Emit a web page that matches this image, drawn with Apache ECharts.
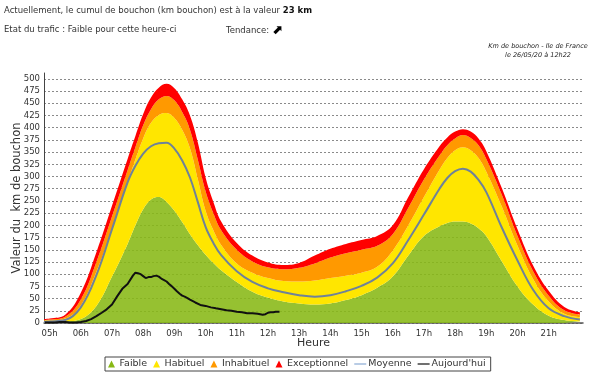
<!DOCTYPE html>
<html><head><meta charset="utf-8">
<script src="https://cdn.jsdelivr.net/npm/echarts@6/dist/echarts.min.js"></script>
<style>html,body{margin:0;padding:0;background:#fff}#c{width:600px;height:377px}</style>
</head><body><div id="c"></div>
<script>
// hours of the day (decimal)
var hours = [4.82, 5, 5.5, 6, 6.5, 7, 7.5, 7.75, 8, 8.25, 8.5, 8.75, 9, 9.25, 9.5, 9.75, 10, 10.25, 10.5, 11, 11.5, 12, 12.5, 13, 13.5, 14, 14.5, 15, 15.5, 16, 16.5, 17, 17.5, 17.75, 18, 18.25, 18.5, 18.75, 19, 19.5, 20, 20.5, 21, 21.5, 22];
// upper limit of each zone (km)
var faible       = [1, 2, 3, 8, 35, 95, 162, 200, 233, 253, 258, 248, 230, 207, 182, 160, 140, 123, 108, 84, 64, 52, 44, 40, 38, 40, 47, 57, 72, 95, 138, 178, 198, 205, 208, 208, 204, 194, 178, 126, 75, 38, 15, 6, 3];
var habituel     = [5, 5, 9, 36, 105, 192, 288, 335, 378, 410, 426, 430, 420, 396, 358, 295, 230, 190, 160, 122, 103, 92, 86, 85, 87, 92, 97, 103, 115, 148, 200, 258, 314, 338, 354, 360, 354, 338, 310, 238, 158, 90, 44, 19, 12];
var inhabituel   = [6, 7, 13, 48, 125, 218, 313, 360, 405, 438, 458, 465, 456, 432, 396, 335, 270, 225, 190, 150, 126, 114, 110, 113, 122, 134, 143, 150, 158, 182, 236, 294, 343, 364, 378, 385, 379, 364, 336, 262, 178, 106, 56, 26, 17];
var exceptionnel = [8, 9, 17, 62, 145, 240, 336, 383, 428, 462, 482, 490, 481, 458, 425, 370, 298, 248, 208, 164, 138, 124, 119, 123, 138, 152, 162, 170, 178, 200, 258, 315, 362, 380, 392, 397, 392, 378, 352, 276, 192, 118, 66, 33, 22];
var moyenne      = [2, 3, 6, 32, 98, 192, 288, 322, 347, 362, 368, 369, 357, 333, 298, 248, 197, 164, 139, 106, 84, 71, 63, 57, 54, 57, 65, 76, 93, 122, 170, 222, 275, 297, 311, 316, 310, 293, 268, 195, 128, 68, 30, 14, 7];
// today's measurements
var todayHours  = [4.85, 5.0, 5.17, 5.33, 5.5, 5.67, 5.83, 6.0, 6.17, 6.33, 6.5, 6.67, 6.83, 7.0, 7.17, 7.33, 7.5, 7.67, 7.75, 7.83, 7.92, 8.0, 8.08, 8.17, 8.25, 8.33, 8.42, 8.5, 8.58, 8.67, 8.75, 8.83, 8.92, 9.0, 9.08, 9.17, 9.25, 9.33, 9.42, 9.5, 9.67, 9.83, 10.0, 10.17, 10.33, 10.5, 10.67, 10.83, 11.0, 11.17, 11.33, 11.5, 11.67, 11.83, 11.92, 12.0, 12.08, 12.17, 12.25, 12.37];
var todayValues = [1, 1, 1, 2, 2, 1, 1, 2, 4, 8, 14, 21, 28, 38, 55, 70, 80, 97, 103, 102, 100, 96, 92, 94, 94, 96, 97, 95, 91, 88, 85, 80, 75, 70, 65, 60, 56, 54, 51, 48, 42, 37, 35, 32, 30, 28, 26, 25, 23, 22, 20, 20, 19, 17, 18, 21, 22, 22, 23, 23];
var hourTicks = [5, 6, 7, 8, 9, 10, 11, 12, 13, 14, 15, 16, 17, 18, 19, 20, 21];
var yMax = 512;

var FONT = 'DejaVu Sans';
function pairs(xs, ys) { return xs.map(function (x, i) { return [x, ys[i]]; }); }
// [value, hour] so that stacking applies to the value dimension
function bandData(upper, lower) {
  return hours.map(function (h, i) { return [Math.max(0, upper[i] - (lower ? lower[i] : 0)), h]; });
}

var tri = 'path://M5,0L10,10L0,10Z';
var bar = 'path://M0,0L24,0L24,2.4L0,2.4Z';
function band(name, upper, lower, color, opacity) {
  return { name: name, type: 'line', stack: 'zones', smooth: 0.4, symbol: 'none',
    encode: { x: 1, y: 0 }, data: bandData(upper, lower),
    color: color, lineStyle: { width: 0 }, areaStyle: { color: color, opacity: opacity } };
}
var chart = echarts.init(document.getElementById('c'));
chart.setOption({
  animation: false,
  title: [
    { text: '{n|Actuellement, le cumul de bouchon (km bouchon) est à la valeur }{b|23 km}', left: 4, top: 6, padding: 0,
      textStyle: { rich: { n: { fontFamily: FONT, fontSize: 8.5, fontWeight: 'normal', color: '#333' }, b: { fontFamily: FONT, fontSize: 8.5, fontWeight: 'bold', color: '#111' } } } },
    { text: 'Etat du trafic : Faible pour cette heure-ci', left: 4, top: 25, padding: 0, textStyle: { fontFamily: FONT, fontSize: 8.5, fontWeight: 'normal', color: '#333' } },
    { text: 'Tendance: {a|⬈}', left: 226, top: 24, padding: 0, textStyle: { fontFamily: FONT, fontSize: 8.5, fontWeight: 'normal', color: '#333', rich: { a: { fontSize: 13, fontWeight: 'bold', color: '#000', verticalAlign: 'middle' } } } },
    { text: 'Km de bouchon - Ile de France\nle 26/05/20 à 12h22', left: 538, top: 42, padding: 0, textAlign: 'center',
      textStyle: { fontFamily: FONT, fontSize: 6.5, fontStyle: 'italic', fontWeight: 'normal', color: '#222', lineHeight: 9, align: 'center' } }
  ],
  legend: {
    left: 105, top: 357, padding: [2, 5, 2, 3], itemGap: 6, itemWidth: 12, itemHeight: 7,
    borderColor: '#444', borderWidth: 1,
    textStyle: { fontFamily: FONT, fontSize: 9.5, color: '#333', padding: [0, 0, 0, -3] },
    data: [
      { name: 'Faible', icon: tri },
      { name: 'Habituel', icon: tri },
      { name: 'Inhabituel', icon: tri },
      { name: 'Exceptionnel', icon: tri },
      { name: 'Moyenne', icon: bar, itemStyle: { color: '#8aaad4' } },
      { name: "Aujourd'hui", icon: bar }
    ]
  },
  grid: { left: 44, right: 17, top: 73, bottom: 54, outerBoundsMode: 'none' },
  xAxis: {
    type: 'value', min: 4.82, max: 22.1,
    name: 'Heure', nameLocation: 'middle', nameGap: 15, nameMoveOverlap: false,
    nameTextStyle: { fontFamily: FONT, fontSize: 11, color: '#333' },
    axisLine: { show: true, lineStyle: { color: '#555', width: 1.5 } },
    axisTick: { show: false },
    splitLine: { show: false },
    axisLabel: { customValues: hourTicks, fontFamily: FONT, fontSize: 8.5, color: '#333', margin: 6,
      formatter: function (v) { return (v < 10 ? '0' : '') + v + 'h'; } }
  },
  yAxis: {
    type: 'value', min: 0, max: yMax, interval: 25,
    name: 'Valeur du  km de bouchon', nameLocation: 'middle', nameGap: 21, nameRotate: 90, nameMoveOverlap: false,
    nameTextStyle: { fontFamily: FONT, fontSize: 11.5, color: '#333' },
    axisLine: { show: true, lineStyle: { color: '#444', width: 1 } },
    axisTick: { show: false },
    axisLabel: { fontFamily: FONT, fontSize: 8.5, color: '#333', margin: 4, showMaxLabel: false },
    splitLine: { show: true, showMaxLine: false, lineStyle: { color: '#8a8a8a', type: [2, 2], width: 1 } }
  },
  series: [
    band('Faible', faible, null, '#88b815', 0.88),
    band('Habituel', habituel, faible, '#ffe600', 1),
    band('Inhabituel', inhabituel, habituel, '#ff9900', 1),
    band('Exceptionnel', exceptionnel, inhabituel, '#ff0000', 1),
    { name: 'Moyenne', type: 'line', smooth: 0.4, symbol: 'none', data: pairs(hours, moyenne),
      color: '#7890ad', lineStyle: { width: 2, color: '#6f8299' }, z: 6 },
    { name: "Aujourd'hui", type: 'line', smooth: false, symbol: 'none', data: pairs(todayHours, todayValues),
      color: '#111', lineStyle: { width: 2, color: '#111' }, z: 7 }
  ]
});
</script>
</body></html>
